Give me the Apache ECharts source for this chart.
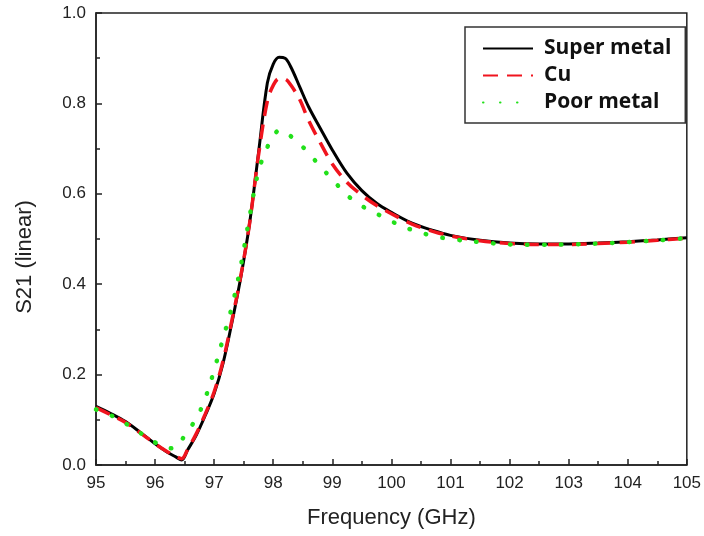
<!DOCTYPE html>
<html>
<head>
<meta charset="utf-8">
<script src="https://cdn.jsdelivr.net/npm/echarts@6/dist/echarts.min.js"></script>
<style>html,body{margin:0;padding:0;background:#fff;}#c{width:704px;height:536px;}</style>
</head>
<body>
<div id="c"></div>
<script>
var freq = [95, 95.25, 95.5, 95.75, 96, 96.2, 96.35, 96.45, 96.55, 96.7, 96.85, 97, 97.15, 97.3, 97.45, 97.6, 97.75, 97.9, 98.0, 98.1, 98.2, 98.3, 98.45, 98.6, 98.8, 99, 99.25, 99.5, 99.75, 100, 100.35, 100.7, 101, 101.5, 102, 102.5, 103, 103.5, 104, 104.5, 105];
var superMetal = [0.130, 0.114, 0.096, 0.072, 0.047, 0.029, 0.018, 0.011, 0.033, 0.067, 0.110, 0.158, 0.225, 0.315, 0.415, 0.535, 0.690, 0.845, 0.887, 0.902, 0.900, 0.880, 0.836, 0.792, 0.744, 0.697, 0.645, 0.607, 0.579, 0.559, 0.535, 0.519, 0.508, 0.497, 0.491, 0.489, 0.489, 0.491, 0.494, 0.498, 0.503];
var cu = [0.127, 0.111, 0.094, 0.071, 0.047, 0.030, 0.019, 0.014, 0.034, 0.070, 0.113, 0.162, 0.230, 0.320, 0.418, 0.535, 0.685, 0.805, 0.840, 0.855, 0.854, 0.840, 0.808, 0.762, 0.712, 0.666, 0.625, 0.597, 0.574, 0.556, 0.533, 0.517, 0.507, 0.496, 0.490, 0.488, 0.488, 0.490, 0.493, 0.497, 0.502];
var poorMetal = [0.123, 0.110, 0.092, 0.071, 0.050, 0.037, 0.038, 0.055, 0.075, 0.103, 0.148, 0.210, 0.280, 0.350, 0.440, 0.550, 0.650, 0.703, 0.727, 0.740, 0.739, 0.727, 0.710, 0.690, 0.660, 0.632, 0.597, 0.573, 0.556, 0.539, 0.520, 0.507, 0.500, 0.493, 0.488, 0.487, 0.488, 0.490, 0.493, 0.497, 0.502];
var seriesNames = ['Super metal', 'Cu', 'Poor metal'];

function pairs(ys) { return freq.map(function (f, i) { return [f, ys[i]]; }); }

var chart = echarts.init(document.getElementById('c'));
var labelFont = 'Liberation Sans, Arial, sans-serif';
chart.setOption({
  animation: false,
  backgroundColor: '#fff',
  grid: { left: 96, right: 16, top: 13, bottom: 71, show: true, borderColor: '#222', borderWidth: 1.5, backgroundColor: 'transparent' },
  legend: {
    data: seriesNames,
    orient: 'vertical',
    left: 465, top: 27,
    padding: [11, 14, 10, 17],
    itemGap: 6,
    itemWidth: 50, itemHeight: 14,
    borderColor: '#333', borderWidth: 1.5,
    backgroundColor: '#fff',
    itemStyle: { opacity: 0, borderWidth: 0 },
    textStyle: { fontFamily: 'Open Sans, sans-serif', fontWeight: 'bold', fontSize: 21, color: '#111', padding: [0, 0, 0, 6] }
  },
  xAxis: {
    type: 'value', min: 95, max: 105, interval: 1,
    name: 'Frequency (GHz)', nameLocation: 'middle', nameGap: 42,
    nameTextStyle: { fontFamily: labelFont, fontSize: 22, color: '#222' },
    axisLine: { show: true, onZero: false, lineStyle: { color: '#222', width: 1.5 } },
    axisTick: { show: true, inside: true, length: 6, lineStyle: { color: '#222', width: 1.5 } },
    minorTick: { show: true, splitNumber: 2, length: 4, lineStyle: { color: '#222', width: 1.5 } },
    splitLine: { show: false },
    axisLabel: { fontFamily: labelFont, fontSize: 17, color: '#222', margin: 10 }
  },
  yAxis: {
    type: 'value', min: 0, max: 1, interval: 0.2,
    name: 'S21 (linear)', nameLocation: 'middle', nameGap: 60,
    nameTextStyle: { fontFamily: labelFont, fontSize: 22, color: '#222', padding: [0, 36, 0, 0] },
    axisLine: { show: true, lineStyle: { color: '#222', width: 1.5 } },
    axisTick: { show: true, inside: true, length: 6, lineStyle: { color: '#222', width: 1.5 } },
    minorTick: { show: true, splitNumber: 2, length: 4, lineStyle: { color: '#222', width: 1.5 } },
    splitLine: { show: false },
    axisLabel: { fontFamily: labelFont, fontSize: 17, color: '#222', margin: 10, formatter: function (v) { return v.toFixed(1); } }
  },
  series: [
    { name: seriesNames[0], type: 'line', data: pairs(superMetal), showSymbol: false, symbol: 'none', smooth: 0.35, z: 3,
      lineStyle: { color: '#000', width: 3 }, itemStyle: { color: '#000' } },
    { name: seriesNames[1], type: 'line', data: pairs(cu), showSymbol: false, symbol: 'none', smooth: 0.35, z: 4,
      lineStyle: { color: '#f0141e', width: 3.5, type: [15, 9] }, itemStyle: { color: '#f0141e' } },
    { name: seriesNames[2], type: 'line', data: pairs(poorMetal), showSymbol: false, symbol: 'none', smooth: 0.35, z: 5,
      lineStyle: { color: '#22e01a', width: 4.5, type: [0.5, 16.5], cap: 'round' }, itemStyle: { color: '#22e01a' } }
  ]
});
</script>
</body>
</html>
